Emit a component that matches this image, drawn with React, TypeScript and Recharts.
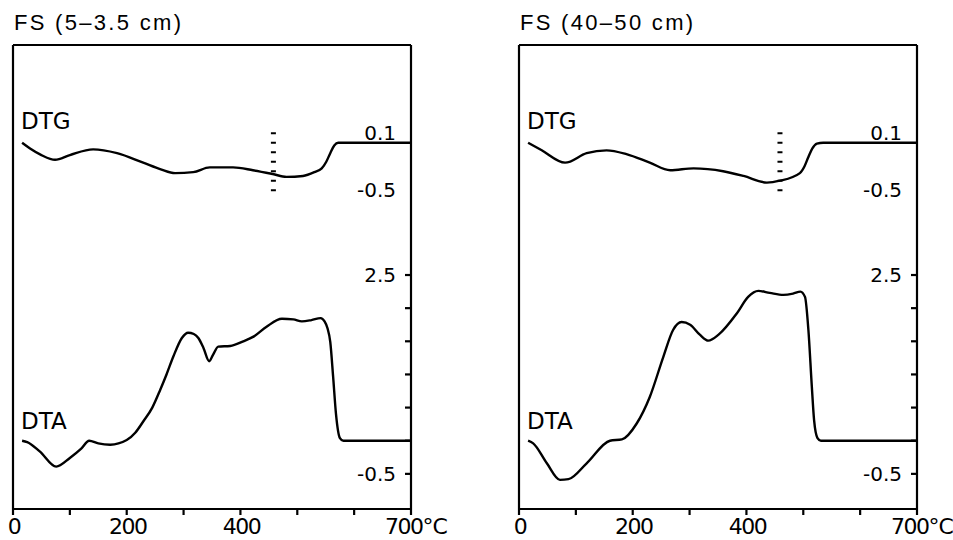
import { LineChart, Line, XAxis, YAxis, ReferenceLine, ReferenceDot } from 'recharts';

// temperature axis
const tempTicks = [0, 100, 200, 300, 400, 500, 600, 700];
const shownTemps = [0, 200, 400, 700];

// right hand DTA scale
const dtaTicks = [-0.5, 0, 0.5, 1, 1.5, 2, 2.5];
const dtaLabelled = [2.5, -0.5];

// FS (5–3.5 cm)
const dtgTempsTop = [16, 30, 50, 74, 100, 141, 183, 229, 260, 285, 317, 346, 387, 422, 457, 481, 510, 530, 543, 551, 558, 565, 572, 598, 650, 700];
const dtgValsTop = [0, -0.06, -0.13, -0.18, -0.13, -0.07, -0.11, -0.21, -0.28, -0.32, -0.31, -0.26, -0.26, -0.29, -0.33, -0.36, -0.35, -0.31, -0.27, -0.2, -0.11, -0.03, 0, 0, 0, 0];
const dtaTempsTop = [16, 25, 47, 76, 100, 120, 134, 150, 171, 200, 215, 229, 245, 259, 270, 282, 297, 308, 318, 326, 335, 345, 352, 361, 382, 405, 423, 446, 473, 493, 508, 525, 541, 548, 553, 558, 563, 568, 575, 581, 700];
const dtaValsTop = [0, -0.02, -0.16, -0.39, -0.26, -0.12, 0, -0.04, -0.06, 0.01, 0.12, 0.29, 0.5, 0.77, 1.0, 1.27, 1.55, 1.63, 1.61, 1.55, 1.4, 1.2, 1.3, 1.42, 1.43, 1.5, 1.57, 1.72, 1.84, 1.83, 1.8, 1.82, 1.85, 1.8, 1.7, 1.49, 0.97, 0.41, 0.04, 0, 0];

// FS (40–50 cm)
const dtgTempsDeep = [16, 40, 81, 119, 154, 189, 230, 266, 307, 359, 395, 436, 459, 494, 502, 509, 516, 524, 535, 600, 700];
const dtgValsDeep = [0, -0.08, -0.21, -0.11, -0.08, -0.12, -0.21, -0.29, -0.27, -0.3, -0.35, -0.42, -0.4, -0.32, -0.25, -0.15, -0.06, -0.01, 0, 0, 0];
const dtaTempsDeep = [16, 25, 49, 72, 87, 119, 160, 181, 207, 230, 254, 271, 286, 301, 318, 333, 351, 383, 403, 421, 441, 465, 482, 495, 503, 509, 515, 519, 525, 531, 700];
const dtaValsDeep = [0, -0.04, -0.34, -0.59, -0.58, -0.34, 0, 0.02, 0.26, 0.66, 1.27, 1.67, 1.79, 1.75, 1.6, 1.51, 1.6, 1.92, 2.17, 2.26, 2.23, 2.2, 2.22, 2.25, 2.17, 1.67, 0.82, 0.31, 0.04, 0, 0];

const DTA_DOMAIN = [-1.03, 5.97];
const DTG_DOMAIN = [-3.86, 1.03];

const zip = (ts: number[], vs: number[]) => ts.map((t, i) => ({ t, v: vs[i] }));

const FONT = '"DejaVu Sans", Verdana, sans-serif';
const line = { stroke: '#000', strokeWidth: 2.2 };

function TempTick({ x, y, payload }: any) {
  const v = payload.value;
  if (!shownTemps.includes(v)) return <g />;
  if (v === 700) {
    return (
      <text x={x - 26} y={y} dy="0.71em" textAnchor="start" fontFamily={FONT} fontSize={22} fill="#000">
        <tspan letterSpacing={-1.5}>700</tspan>
        <tspan letterSpacing={-1}>°C</tspan>
      </text>
    );
  }
  return (
    <text x={x + 1} y={y} dy="0.71em" textAnchor="middle"
      fontFamily={FONT} fontSize={22} letterSpacing={-1.5} fill="#000">
      {v}
    </text>
  );
}

function Panel({ left, width, marginRight, title, dtg, dta, markerT }: any) {
  return (
    <div style={{ position: 'absolute', left, top: 0, width, height: 540 }}>
      <div style={{ position: 'absolute', left: 14, top: 12, fontFamily: '"Liberation Sans", Arial, sans-serif', fontSize: 22, lineHeight: '22px', letterSpacing: 2.3, whiteSpace: 'nowrap' }}>
        {title}
      </div>
      <div style={{ position: 'absolute', left: 21, top: 110, fontFamily: FONT, fontSize: 23, lineHeight: '23px' }}>DTG</div>
      <div style={{ position: 'absolute', left: 21, top: 410, fontFamily: FONT, fontSize: 23, lineHeight: '23px' }}>DTA</div>
      <LineChart width={width} height={540} margin={{ top: 45, left: 13, right: marginRight, bottom: 0 }}>
        <XAxis dataKey="t" type="number" domain={[0, 700]} ticks={tempTicks} interval={0}
          tick={<TempTick />} tickSize={6} tickMargin={3} height={31}
          axisLine={line} tickLine={line} />
        <YAxis yAxisId="dta" orientation="right" type="number" domain={DTA_DOMAIN} ticks={dtaTicks}
          interval={0} mirror tickSize={6} tickMargin={9} axisLine={line} tickLine={line}
          tickFormatter={(v: number) => (dtaLabelled.includes(v) ? String(v) : '')}
          tick={{ fill: '#000', fontSize: 20, fontFamily: FONT }} allowDataOverflow />
        <YAxis yAxisId="dtg" hide type="number" domain={DTG_DOMAIN} allowDataOverflow />

        {/* left and top edges of the frame */}
        <ReferenceLine yAxisId="dta" x={0} stroke="#000" strokeWidth={2.2} />
        <ReferenceLine yAxisId="dta" y={DTA_DOMAIN[1]} stroke="#000" strokeWidth={2.2} />

        <ReferenceLine yAxisId="dtg" segment={[{ x: markerT, y: 0.11 }, { x: markerT, y: -0.51 }]}
          stroke="#000" strokeWidth={5} strokeDasharray="2 7.5" />
        <ReferenceDot yAxisId="dtg" x={700} y={0.1} r={0}
          label={{ value: '0.1', position: 'left', offset: 15, fontSize: 20, fontFamily: FONT, fill: '#000' }} />
        <ReferenceDot yAxisId="dtg" x={700} y={-0.5} r={0}
          label={{ value: '-0.5', position: 'left', offset: 15, fontSize: 20, fontFamily: FONT, fill: '#000' }} />

        <Line yAxisId="dtg" data={dtg} dataKey="v" type="monotone" stroke="#000" strokeWidth={2.4}
          dot={false} isAnimationActive={false} />
        <Line yAxisId="dta" data={dta} dataKey="v" type="monotone" stroke="#000" strokeWidth={2.4}
          dot={false} isAnimationActive={false} />
      </LineChart>
    </div>
  );
}

export default function App() {
  return (
    <div style={{ position: 'absolute', left: 0, top: 0, width: 953, height: 540, overflow: 'hidden', background: '#fff' }}>
      <Panel left={0} width={476} marginRight={65} title="FS (5–3.5 cm)"
        dtg={zip(dtgTempsTop, dtgValsTop)} dta={zip(dtaTempsTop, dtaValsTop)} markerT={458} />
      <Panel left={506} width={447} marginRight={36} title="FS (40–50 cm)"
        dtg={zip(dtgTempsDeep, dtgValsDeep)} dta={zip(dtaTempsDeep, dtaValsDeep)} markerT={459} />
    </div>
  );
}
